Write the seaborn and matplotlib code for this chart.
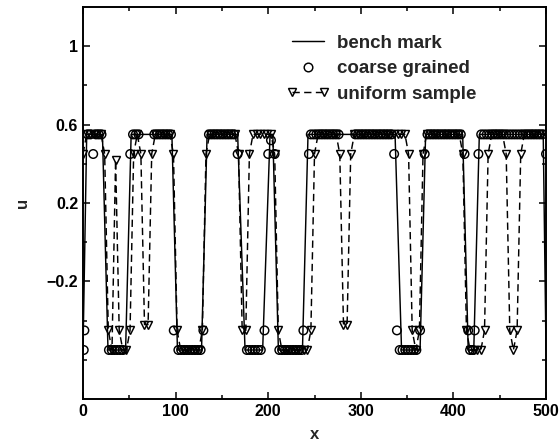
import numpy as np
import pandas as pd
import matplotlib
matplotlib.use("Agg")
import matplotlib.pyplot as plt
import seaborn as sns
from matplotlib.lines import Line2D
from matplotlib.legend_handler import HandlerLine2D
from matplotlib.ticker import MultipleLocator, FixedLocator, FixedFormatter

# ---------------- data ----------------
# bench mark (polyline vertices)
bench_x = [0, 4, 21, 27, 46, 52, 96, 102, 128, 134, 167, 175, 194, 202, 205, 211,
           237, 243, 337, 344, 364, 370, 410, 416, 422, 428, 497, 500]
bench_u = [-0.55, 0.55, 0.55, -0.55, -0.55, 0.55, 0.55, -0.55, -0.55, 0.55, 0.55, -0.55,
           -0.55, 0.55, 0.55, -0.55, -0.55, 0.55, 0.55, -0.55, -0.55, 0.55, 0.55, -0.55,
           -0.55, 0.55, 0.55, -0.55]

# coarse grained (circles)
cg_x = [0.8, 1.5, 5, 8, 11, 14, 17, 20,
        28, 31, 34, 37, 40, 43,
        51, 54, 57, 60,
        77, 80, 83, 86, 89, 92, 95,
        98, 103, 106, 109, 112, 115, 118, 121, 124, 127,
        130, 136, 139, 142, 145, 148, 151, 154, 157, 160, 163,
        167, 177, 180, 183, 186, 189, 192,
        196, 200, 203, 207,
        212, 215, 218, 221, 224, 227, 230, 233, 236,
        238, 244, 246, 249, 252, 255, 258, 261, 264, 267, 270, 273, 276,
        294, 297, 300, 303, 306, 309, 312, 315, 318, 321, 324, 327, 330, 333,
        336, 339, 342, 345, 348, 351, 354, 357, 360,
        364, 369, 372, 375, 378, 381, 384, 387, 390, 393, 396, 399, 402, 405, 408,
        412, 416, 418, 421, 423, 427,
        430, 433, 436, 439, 442, 445, 448, 451, 454, 457, 460, 463, 466, 469, 472,
        475, 478, 481, 484, 487, 490, 493, 496,
        500]
cg_u = [-0.55, -0.45, 0.55, 0.55, 0.45, 0.55, 0.55, 0.55,
        -0.55, -0.55, -0.55, -0.55, -0.55, -0.55,
        0.45, 0.55, 0.55, 0.55,
        0.55, 0.55, 0.55, 0.55, 0.55, 0.55, 0.55,
        -0.45, -0.55, -0.55, -0.55, -0.55, -0.55, -0.55, -0.55, -0.55, -0.55,
        -0.45, 0.55, 0.55, 0.55, 0.55, 0.55, 0.55, 0.55, 0.55, 0.55, 0.55,
        0.45, -0.55, -0.55, -0.55, -0.55, -0.55, -0.55,
        -0.45, 0.45, 0.52, 0.45,
        -0.55, -0.55, -0.55, -0.55, -0.55, -0.55, -0.55, -0.55, -0.55,
        -0.45, 0.45, 0.55, 0.55, 0.55, 0.55, 0.55, 0.55, 0.55, 0.55, 0.55, 0.55, 0.55,
        0.55, 0.55, 0.55, 0.55, 0.55, 0.55, 0.55, 0.55, 0.55, 0.55, 0.55, 0.55, 0.55, 0.55,
        0.45, -0.45, -0.55, -0.55, -0.55, -0.55, -0.55, -0.55, -0.55,
        -0.45, 0.45, 0.55, 0.55, 0.55, 0.55, 0.55, 0.55, 0.55, 0.55, 0.55, 0.55, 0.55, 0.55, 0.55,
        0.45, -0.45, -0.55, -0.55, -0.45, 0.45,
        0.55, 0.55, 0.55, 0.55, 0.55, 0.55, 0.55, 0.55, 0.55, 0.55, 0.55, 0.55, 0.55, 0.55, 0.55,
        0.55, 0.55, 0.55, 0.55, 0.55, 0.55, 0.55, 0.55,
        0.45]

# uniform sample (triangles, dashed)
uni_x = [0.0, 3.9, 7.8, 11.7, 15.6, 19.5, 23.4, 27.3, 31.3, 35.2,
         39.1, 43.0, 46.9, 50.8, 54.7, 58.6, 62.5, 66.4, 70.3, 74.2,
         78.1, 82.0, 85.9, 89.8, 93.8, 97.7, 101.6, 105.5, 109.4, 113.3,
         117.2, 121.1, 125.0, 128.9, 132.8, 136.7, 140.6, 144.5, 148.4, 152.3,
         156.3, 160.2, 164.1, 168.0, 171.9, 175.8, 179.7, 183.6, 187.5, 191.4,
         195.3, 199.2, 203.1, 207.0, 210.9, 214.8, 218.8, 222.7, 226.6, 230.5,
         234.4, 238.3, 242.2, 246.1, 250.0, 253.9, 257.8, 261.7, 265.6, 269.5,
         273.4, 277.3, 281.3, 285.2, 289.1, 293.0, 296.9, 300.8, 304.7, 308.6,
         312.5, 316.4, 320.3, 324.2, 328.1, 332.0, 335.9, 339.8, 343.8, 347.7,
         351.6, 355.5, 359.4, 363.3, 367.2, 371.1, 375.0, 378.9, 382.8, 386.7,
         390.6, 394.5, 398.4, 402.3, 406.3, 410.2, 414.1, 418.0, 421.9, 425.8,
         429.7, 433.6, 437.5, 441.4, 445.3, 449.2, 453.1, 457.0, 460.9, 464.8,
         468.8, 472.7, 476.6, 480.5, 484.4, 488.3, 492.2, 496.1, 500.0]
uni_u = [0.45, 0.55, 0.55, 0.55, 0.55, 0.55, 0.45, -0.45, -0.55, 0.42,
         -0.45, -0.55, -0.55, -0.45, 0.45, 0.55, 0.45, -0.42, -0.42, 0.45,
         0.55, 0.55, 0.55, 0.55, 0.55, 0.45, -0.45, -0.55, -0.55, -0.55,
         -0.55, -0.55, -0.55, -0.45, 0.45, 0.55, 0.55, 0.55, 0.55, 0.55,
         0.55, 0.55, 0.55, 0.45, -0.45, -0.45, 0.45, 0.55, 0.55, 0.55,
         0.55, 0.55, 0.55, 0.45, -0.45, -0.55, -0.55, -0.55, -0.55, -0.55,
         -0.55, -0.55, -0.55, -0.45, 0.45, 0.55, 0.55, 0.55, 0.55, 0.55,
         0.55, 0.45, -0.42, -0.42, 0.45, 0.55, 0.55, 0.55, 0.55, 0.55,
         0.55, 0.55, 0.55, 0.55, 0.55, 0.55, 0.55, 0.55, 0.55, 0.55,
         0.45, -0.45, -0.55, -0.45, 0.45, 0.55, 0.55, 0.55, 0.55, 0.55,
         0.55, 0.55, 0.55, 0.55, 0.55, 0.45, -0.45, -0.55, -0.55, -0.55,
         -0.55, -0.45, 0.45, 0.55, 0.55, 0.55, 0.55, 0.45, -0.45, -0.55,
         -0.45, 0.45, 0.55, 0.55, 0.55, 0.55, 0.55, 0.55, 0.55]

series_labels = ["bench mark", "coarse grained", "uniform sample"]
y_major = [-0.2, 0.2, 0.6, 1.0]
y_major_labels = ["\u22120.2", "0.2", "0.6", "1"]
y_minor = [-0.6, -0.4, 0.0, 0.4, 0.8]

# ---------------- style ----------------
sns.set_style("ticks")
plt.rcParams["font.family"] = ["Liberation Sans", "DejaVu Sans"]
plt.rcParams["font.weight"] = "bold"

fig = plt.figure(figsize=(5.6, 4.46), dpi=100)
ax = fig.add_axes([83 / 560, 1 - 399 / 446, 463 / 560, 392 / 446])

lw = 1.05
dash = (0, (5, 3))
sns.lineplot(x=bench_x, y=bench_u, sort=False, estimator=None, color="black",
             linewidth=lw, ax=ax, zorder=2)
sns.lineplot(x=uni_x, y=uni_u, sort=False, estimator=None, color="black",
             linewidth=lw, linestyle=dash, marker="v", markersize=6.2,
             markerfacecolor="none", markeredgecolor="black", markeredgewidth=1.05,
             ax=ax, zorder=3)
sns.scatterplot(x=cg_x, y=cg_u, marker="o", s=38, facecolors="none",
                edgecolors="black", linewidths=1.05, ax=ax, zorder=4)

ax.set_xlim(0, 500)
ax.set_ylim(-0.8, 1.2)
ax.xaxis.set_major_locator(MultipleLocator(100))
ax.xaxis.set_minor_locator(MultipleLocator(50))
ax.yaxis.set_major_locator(FixedLocator(y_major))
ax.yaxis.set_major_formatter(FixedFormatter(y_major_labels))
ax.yaxis.set_minor_locator(FixedLocator(y_minor))
ax.tick_params(which="both", direction="in", top=True, right=True, width=1.1,
               colors="black", labelsize=11.5)
ax.tick_params(which="major", length=5)
ax.tick_params(which="minor", length=3)
for lab in ax.get_xticklabels() + ax.get_yticklabels():
    lab.set_fontweight("bold")
for s in ax.spines.values():
    s.set_linewidth(1.4)
    s.set_color("black")

ax.set_xlabel("x", fontsize=12, fontweight="bold", labelpad=6)
ax.set_ylabel("u", fontsize=12, fontweight="bold", labelpad=12)

h_bench = Line2D([], [], color="black", linewidth=lw)
h_cg = Line2D([], [], linestyle="none", marker="o", markersize=6.2,
              markerfacecolor="none", markeredgecolor="black", markeredgewidth=1.05)
h_uni = Line2D([], [], color="black", linewidth=lw, linestyle=dash, marker="v",
               markersize=6.2, markerfacecolor="none", markeredgecolor="black",
               markeredgewidth=1.05)
leg = ax.legend([h_bench, h_cg, h_uni], series_labels, loc="upper left",
                bbox_to_anchor=(0.42, 0.953), frameon=False, numpoints=2,
                handlelength=2.3, handletextpad=0.35, labelspacing=0.45,
                borderpad=0, prop={"size": 13.5, "weight": "bold"},
                handler_map={h_cg: HandlerLine2D(numpoints=1)})

fig.savefig("out.png", dpi=100)
